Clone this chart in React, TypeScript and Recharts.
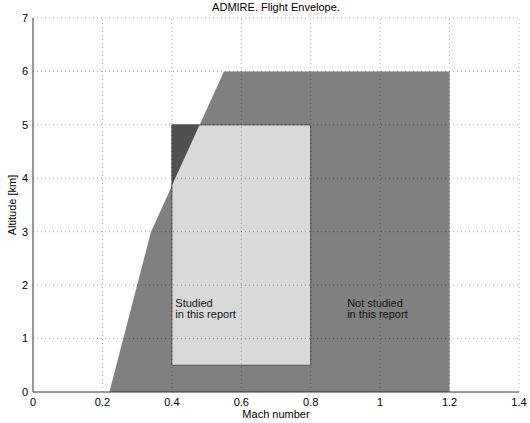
import {
  Area,
  ComposedChart,
  Line,
  ReferenceDot,
  ReferenceLine,
  XAxis,
  YAxis
} from 'recharts';

// flight envelope outline (Mach, altitude km)
const envelope = [
  { mach: 0.22, alt: 0 },
  { mach: 0.34, alt: 3 },
  { mach: 0.55, alt: 6 },
  { mach: 1.2, alt: 6 }
];

// studied region, full rectangle (part outside envelope is dark)
const studiedBox = [
  { mach: 0.4, band: [0.5, 5] },
  { mach: 0.8, band: [0.5, 5] }
];

// studied region inside the envelope
const studiedInside = [
  { mach: 0.4, band: [0.5, 3.86] },
  { mach: 0.48, band: [0.5, 5] },
  { mach: 0.8, band: [0.5, 5] }
];

const studiedOutline = [
  { mach: 0.4, alt: 0.5 },
  { mach: 0.8, alt: 0.5 },
  { mach: 0.8, alt: 5 },
  { mach: 0.4, alt: 5 },
  { mach: 0.4, alt: 0.5 }
];

const xTicks = [0, 0.2, 0.4, 0.6, 0.8, 1, 1.2, 1.4];
const yTicks = [0, 1, 2, 3, 4, 5, 6, 7];

const notes = [
  { mach: 0.41, alt: 1.6, lines: ['Studied', 'in this report'] },
  { mach: 0.905, alt: 1.6, lines: ['Not studied', 'in this report'] }
];

const font = '"Liberation Sans", Arial, sans-serif';

const NoteLabel = ({ viewBox, lines }: any) => {
  if (!viewBox) return null;
  return (
    <text x={viewBox.x} y={viewBox.y} fontSize={11} fill="#111" fontFamily={font}>
      {lines.map((l: string, i: number) => (
        <tspan key={i} x={viewBox.x} dy={i === 0 ? 0 : 11}>
          {l}
        </tspan>
      ))}
    </text>
  );
};

export default function App() {
  return (
    <div style={{ position: 'absolute', left: 0, top: 0, width: 530, height: 423, background: '#fff', fontFamily: font }}>
      <div style={{ position: 'absolute', left: 33, width: 486, top: 1, textAlign: 'center', fontSize: 11, color: '#000' }}>
        ADMIRE. Flight Envelope.
      </div>
      <ComposedChart width={530} height={423} margin={{ top: 18, right: 11, bottom: 0, left: 0 }}>
        <XAxis
          type="number"
          dataKey="mach"
          domain={[0, 1.4]}
          ticks={xTicks}
          allowDataOverflow
          height={31}
          tickLine={false}
          tickSize={3}
          tickMargin={3}
          stroke="#333"
          tick={{ fill: '#000', fontSize: 11, fontFamily: font }}
          label={{ value: 'Mach number', position: 'insideBottom', offset: 5, fill: '#000', fontSize: 11, fontFamily: font }}
        />
        <YAxis
          type="number"
          domain={[0, 7]}
          ticks={yTicks}
          allowDataOverflow
          width={33}
          tickLine={false}
          tickSize={3}
          tickMargin={2}
          stroke="#333"
          tick={{ fill: '#000', fontSize: 11, fontFamily: font }}
          label={{ value: 'Altitude [km]', angle: -90, position: 'insideLeft', offset: 12, fill: '#000', fontSize: 11, fontFamily: font, style: { textAnchor: 'middle' } }}
        />
        <Area
          data={envelope}
          dataKey="alt"
          type="linear"
          fill="#808080"
          fillOpacity={1}
          stroke="none"
          isAnimationActive={false}
        />
        <Area
          data={studiedBox}
          dataKey="band"
          type="linear"
          fill="#505050"
          fillOpacity={1}
          stroke="none"
          isAnimationActive={false}
        />
        <Area
          data={studiedInside}
          dataKey="band"
          type="linear"
          fill="#d9d9d9"
          fillOpacity={1}
          stroke="none"
          isAnimationActive={false}
        />
        <Line
          data={studiedOutline}
          dataKey="alt"
          type="linear"
          stroke="#555"
          strokeWidth={1}
          dot={false}
          activeDot={false}
          isAnimationActive={false}
        />
        {xTicks.slice(1).map((t) => (
          <ReferenceLine key={'x' + t} x={t} stroke="#000" strokeOpacity={0.32} strokeDasharray="1 3" />
        ))}
        {yTicks.slice(1).map((t) => (
          <ReferenceLine key={'y' + t} y={t} stroke="#000" strokeOpacity={0.32} strokeDasharray="1 3" />
        ))}
        {notes.map((n, i) => (
          <ReferenceDot
            key={i}
            x={n.mach}
            y={n.alt}
            r={0}
            fill="none"
            stroke="none"
            label={<NoteLabel lines={n.lines} />}
          />
        ))}
      </ComposedChart>
    </div>
  );
}
